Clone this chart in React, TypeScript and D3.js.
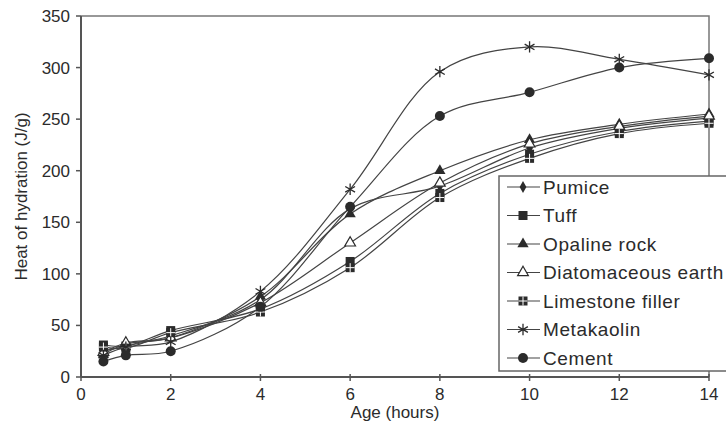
import React, { useEffect } from 'react';
import * as d3 from 'd3';

// age in hours
const ages = [0.5, 1, 2, 4, 6, 8, 10, 12, 14];

// heat of hydration (J/g)
const pumice = [25, 30, 40, 75, 163, 185, 222, 241, 251];
const tuff = [31, 30, 45, 66, 112, 178, 216, 238, 248];
const opalineRock = [22, 32, 38, 78, 158, 200, 230, 245, 255];
const diatomaceousEarth = [24, 33, 38, 72, 130, 188, 226, 243, 253];
const limestoneFiller = [29, 28, 43, 63, 106, 174, 212, 236, 246];
const metakaolin = [21, 29, 34, 83, 182, 296, 320, 308, 293];
const cement = [15, 21, 25, 68, 165, 253, 276, 300, 309];

const seriesNames = ['Pumice', 'Tuff', 'Opaline rock', 'Diatomaceous earth', 'Limestone filler', 'Metakaolin', 'Cement'];
const seriesValues = [pumice, tuff, opalineRock, diatomaceousEarth, limestoneFiller, metakaolin, cement];
const markerKinds = ['diamond', 'square', 'triangle', 'triangleOpen', 'squareCross', 'asterisk', 'circle'];

const xTicks = [0, 2, 4, 6, 8, 10, 12, 14];
const yTicks = [0, 50, 100, 150, 200, 250, 300, 350];

const W = 726, H = 434;
const FONT = '"Liberation Sans", Arial, sans-serif';
const INK = '#2b2b2b';

const x = d3.scaleLinear().domain([0, 14]).range([81, 709]);
const y = d3.scaleLinear().domain([0, 350]).range([377, 16]);
const legendY = d3.scaleLinear().domain([0, 6]).range([187, 358]);

const line = d3.line<number>()
  .x((_, i) => x(ages[i]))
  .y(d => y(d))
  .curve(d3.curveCatmullRom.alpha(0.5));

function Marker({ kind, cx, cy }: { kind: string; cx: number; cy: number }) {
  const t = `translate(${cx},${cy})`;
  switch (kind) {
    case 'diamond':
      return <path transform={t} d={d3.symbol(d3.symbolDiamond, 40)()!} fill={INK} />;
    case 'square':
      return <rect x={cx - 4.5} y={cy - 4.5} width={9} height={9} fill={INK} />;
    case 'triangle':
      return <path transform={t} d={d3.symbol(d3.symbolTriangle, 55)()!} fill={INK} />;
    case 'triangleOpen':
      return <path transform={t} d={d3.symbol(d3.symbolTriangle, 50)()!} fill="#fff" stroke={INK} strokeWidth={1.2} />;
    case 'squareCross':
      return (
        <g>
          <rect x={cx - 4.5} y={cy - 4.5} width={9} height={9} fill={INK} />
          <path d={`M${cx - 4.5},${cy}H${cx + 4.5}M${cx},${cy - 4.5}V${cy + 4.5}`} stroke="#fff" strokeWidth={1} />
        </g>
      );
    case 'asterisk':
      return <path transform={t} d={d3.symbol(d3.symbolAsterisk, 90)()!} fill="none" stroke={INK} strokeWidth={1.3} />;
    default:
      return <circle cx={cx} cy={cy} r={5} fill={INK} />;
  }
}

export default function App() {
  useEffect(() => {
    document.body.style.margin = '0';
  }, []);

  return (
    <svg width={W} height={H} style={{ display: 'block', background: '#fff' }} fontFamily={FONT}>
      {/* frame */}
      <path d={`M${x(0)},${y(350)}H${x(14)}V${y(0)}`} fill="none" stroke="#777" strokeWidth={1.5} />

      {/* axes */}
      <line x1={x(0)} x2={x(14)} y1={y(0)} y2={y(0)} stroke="#555" strokeWidth={2} />
      <line x1={x(0)} x2={x(0)} y1={y(0)} y2={y(350)} stroke="#555" strokeWidth={2} />
      {yTicks.map(v => (
        <g key={v}>
          <line x1={x(0) - 5} x2={x(0)} y1={y(v)} y2={y(v)} stroke="#555" strokeWidth={1.5} />
          <text x={x(0) - 11} y={y(v)} dy="0.35em" textAnchor="end" fontSize={17} fill={INK}>{v}</text>
        </g>
      ))}
      {xTicks.map(v => (
        <g key={v}>
          <line x1={x(v)} x2={x(v)} y1={y(0) - 3} y2={y(0) + 4} stroke="#555" strokeWidth={1.5} />
          <text x={x(v)} y={y(0) + 23} textAnchor="middle" fontSize={17} fill={INK}>{v}</text>
        </g>
      ))}
      <text x={395} y={418} textAnchor="middle" fontSize={17} fill={INK}>Age (hours)</text>
      <text transform={`translate(27,${y(175)}) rotate(-90)`} textAnchor="middle" fontSize={17} fill={INK}>
        Heat of hydration (J/g)
      </text>

      {/* series */}
      {seriesValues.map((vals, s) => (
        <g key={seriesNames[s]}>
          <path d={line(vals)!} fill="none" stroke="#444" strokeWidth={1.2} />
          {vals.map((v, i) => (
            <Marker key={i} kind={markerKinds[s]} cx={x(ages[i])} cy={y(v)} />
          ))}
        </g>
      ))}

      {/* legend */}
      <rect x={499} y={176} width={240} height={195} fill="#fff" stroke="#666" strokeWidth={1.5} />
      {seriesNames.map((name, s) => (
        <g key={name}>
          <line x1={507} x2={540} y1={legendY(s)} y2={legendY(s)} stroke="#444" strokeWidth={1.2} />
          <Marker kind={markerKinds[s]} cx={523} cy={legendY(s)} />
          <text x={543} y={legendY(s)} dy="0.36em" fontSize={19} letterSpacing={0.6} fill={INK}>{name}</text>
        </g>
      ))}
    </svg>
  );
}
